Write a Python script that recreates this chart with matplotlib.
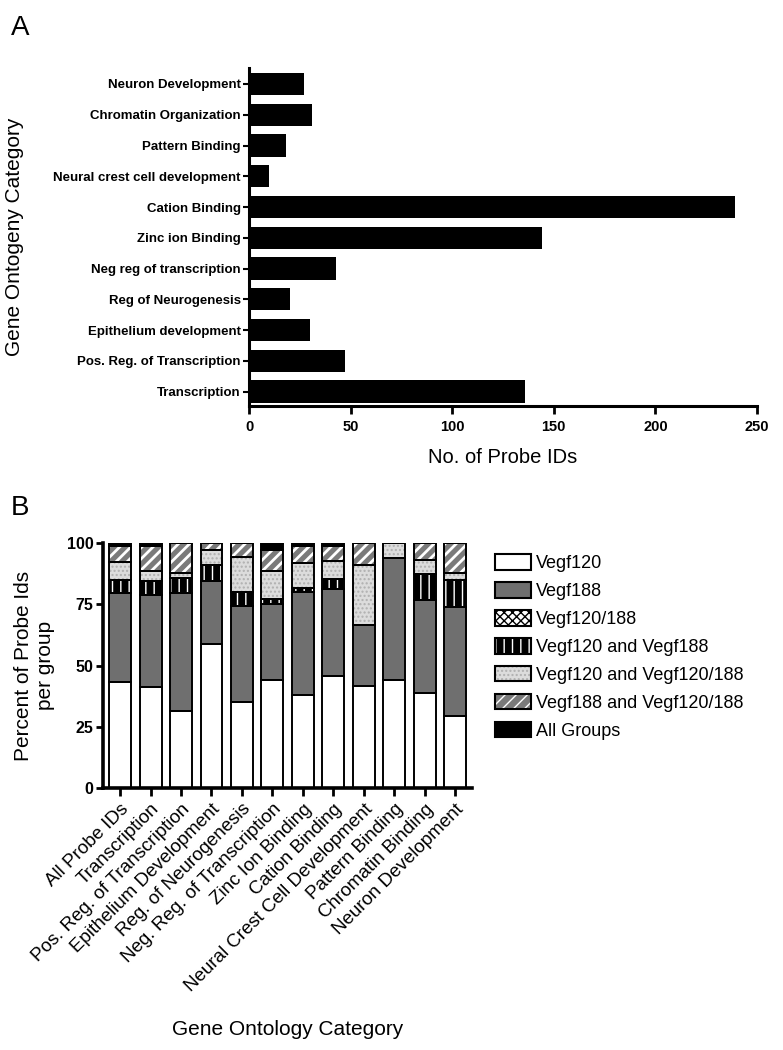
import matplotlib
matplotlib.use("Agg")
import matplotlib.pyplot as plt
import numpy as np
from matplotlib.patches import Patch

plt.rcParams['font.family'] = ['Liberation Sans', 'DejaVu Sans']

# ---------------- Panel A data ----------------
go_categories = ["Transcription", "Pos. Reg. of Transcription", "Epithelium development",
                 "Reg of Neurogenesis", "Neg reg of transcription", "Zinc ion Binding",
                 "Cation Binding", "Neural crest cell development", "Pattern Binding",
                 "Chromatin Organization", "Neuron Development"]
probe_counts = [136, 47, 30, 20, 43, 144, 239, 10, 18, 31, 27]
a_xticks = [0, 50, 100, 150, 200, 250]

# ---------------- Panel B data ----------------
b_categories = ["All Probe IDs", "Transcription", "Pos. Reg. of Transcription",
                "Epithelium Development", "Reg. of Neurogenesis",
                "Neg. Reg. of Transcription", "Zinc Ion Binding", "Cation Binding",
                "Neural Crest Cell Development", "Pattern Binding",
                "Chromatin Binding", "Neuron Development"]
vegf120 =          [43.4, 41.3, 31.5, 58.8, 35.2, 44.1, 37.9, 45.8, 41.6, 44.1, 38.6, 29.3]
vegf188 =          [36.1, 37.3, 48.0, 25.8, 39.2, 30.9, 41.9, 35.4, 25.0, 49.8, 38.2, 44.4]
vegf120_188 =      [0, 0, 0, 0, 0, 0, 0, 0, 0, 0, 0, 0]
vegf120_and_188 =  [5.2, 6.0, 6.2, 6.5, 5.8, 2.2, 1.8, 4.2, 0, 0, 10.6, 11.3]
vegf120_and_120188 = [7.7, 4.1, 2.0, 6.2, 13.9, 11.2, 10.2, 7.1, 24.5, 6.1, 5.8, 2.7]
vegf188_and_120188 = [6.2, 9.9, 12.3, 2.7, 5.9, 8.9, 6.8, 6.1, 8.9, 0, 6.8, 12.3]
all_groups =       [1.4, 1.4, 0, 0, 0, 2.7, 1.4, 1.4, 0, 0, 0, 0]
series_names = ["Vegf120", "Vegf188", "Vegf120/188", "Vegf120 and Vegf188",
                "Vegf120 and Vegf120/188", "Vegf188 and Vegf120/188", "All Groups"]
b_yticks = [0, 25, 50, 75, 100]

# style per series: (facecolor, hatch, hatchcolor, hatch linewidth)
styles = [("white", None, None, 1.0),
          ("#6f6f6f", None, None, 1.0),
          ("white", "xxxx", "black", 1.5),
          ("black", "||", "white", 1.0),
          ("#dcdcdc", "....", "#b0b0b0", 1.0),
          ("#7a7a7a", "///", "white", 2.0),
          ("black", None, None, 1.0)]

W, H = 783, 1050
fig = plt.figure(figsize=(W / 100, H / 100), dpi=100)

def px_axes(left, top, right, bottom):
    return fig.add_axes([left / W, 1 - bottom / H, (right - left) / W, (bottom - top) / H])

# ---------------- Panel A ----------------
axA = px_axes(249, 68, 757, 406)
y = np.arange(len(go_categories))
axA.barh(y, probe_counts, height=0.72, color="black")
axA.set_ylim(-0.47, 10.52)
axA.set_xlim(0, 250)
axA.set_xticks(a_xticks)
axA.set_xticklabels([str(t) for t in a_xticks], fontsize=10.5, fontweight="bold")
axA.set_yticks(y)
axA.set_yticklabels(go_categories, fontsize=9.5, fontweight="bold")
for s in ["top", "right"]:
    axA.spines[s].set_visible(False)
for s in ["left", "bottom"]:
    axA.spines[s].set_linewidth(2.2)
axA.tick_params(axis="x", length=6, width=2, pad=4)
axA.tick_params(axis="y", length=4, width=1.5, pad=2)
axA.set_xlabel("No. of Probe IDs", fontsize=14.5, labelpad=10)
fig.text(15 / W, 1 - 237 / H, "Gene Ontogeny Category", fontsize=15,
         rotation=90, ha="center", va="center")
fig.text(20 / W, 1 - 28 / H, "A", fontsize=20, ha="center", va="center")

# ---------------- Panel B ----------------
axB = px_axes(103, 543, 472, 788)
x = np.arange(len(b_categories))
series = [vegf120, vegf188, vegf120_188, vegf120_and_188,
          vegf120_and_120188, vegf188_and_120188, all_groups]
bottom = np.zeros(len(b_categories))
handles = []
for name, vals, (fc, hatch, hc, hlw) in zip(series_names, series, styles):
    vals = np.array(vals, dtype=float)
    with plt.rc_context({'hatch.linewidth': hlw}):
        if hatch:
            axB.bar(x, vals, width=0.72, bottom=bottom, color=fc, hatch=hatch,
                    edgecolor=hc, linewidth=0, zorder=2)
            fill_h = Patch(facecolor=fc, hatch=hatch, edgecolor=hc, linewidth=0)
        else:
            axB.bar(x, vals, width=0.72, bottom=bottom, color=fc, linewidth=0, zorder=2)
            fill_h = Patch(facecolor=fc, linewidth=0)
        axB.bar(x, vals, width=0.72, bottom=bottom, fill=False, edgecolor="black",
                linewidth=1.4, zorder=3)
    outline_h = Patch(fill=False, edgecolor="black", linewidth=1.5)
    handles.append((fill_h, outline_h))
    bottom += vals

axB.set_xlim(-0.56, 11.55)
axB.set_ylim(0, 100)
axB.set_yticks(b_yticks)
axB.set_yticklabels([str(t) for t in b_yticks], fontsize=11.5, fontweight="bold")
axB.set_xticks(x)
axB.set_xticklabels(b_categories, rotation=45, ha="right", rotation_mode="anchor",
                    fontsize=13.5)
for s in ["top", "right"]:
    axB.spines[s].set_visible(False)
for s in ["left", "bottom"]:
    axB.spines[s].set_linewidth(2.6)
axB.tick_params(axis="x", length=6, width=2, pad=3)
axB.tick_params(axis="y", length=5, width=2, pad=2)
axB.set_ylabel("Percent of Probe Ids\nper group", fontsize=15, labelpad=8)
axB.set_xlabel("Gene Ontology Category", fontsize=15, labelpad=18)
fig.text(20 / W, 1 - 508 / H, "B", fontsize=20, ha="center", va="center")

leg = fig.legend(handles=handles, labels=series_names, loc="upper left",
                 bbox_to_anchor=(488 / W, 1 - 547 / H), frameon=False,
                 fontsize=13, handlelength=2.0, handleheight=0.95,
                 labelspacing=0.55, handletextpad=0.25, borderaxespad=0)

fig.savefig("out.png", dpi=100)
